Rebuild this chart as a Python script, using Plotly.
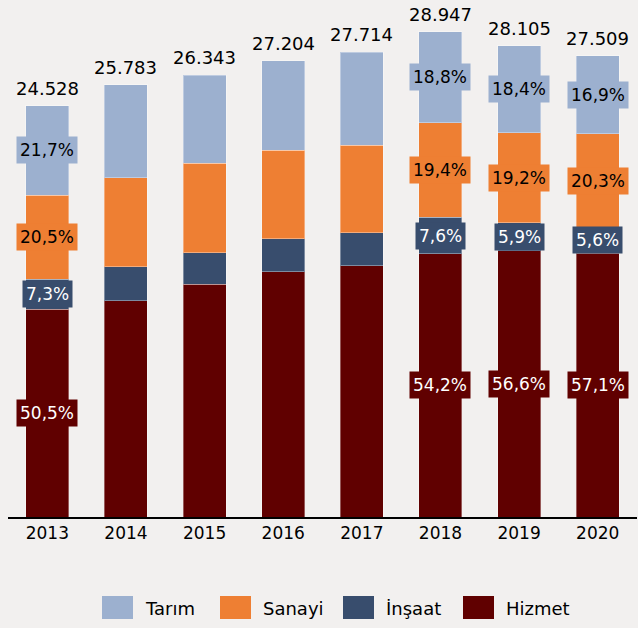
import plotly.graph_objects as go

years = ["2013", "2014", "2015", "2016", "2017", "2018", "2019", "2020"]
tarim = [5323, 5532, 5248, 5319, 5524, 5442, 5171, 4649]
sanayi = [5028, 5330, 5330, 5290, 5220, 5616, 5396, 5584]
insaat = [1790, 2011, 1885, 1965, 1985, 2200, 1658, 1541]
hizmet = [12387, 12910, 13880, 14630, 14985, 15689, 15880, 15735]

tarim_pct = ["21,7%", None, None, None, None, "18,8%", "18,4%", "16,9%"]
sanayi_pct = ["20,5%", None, None, None, None, "19,4%", "19,2%", "20,3%"]
insaat_pct = ["7,3%", None, None, None, None, "7,6%", "5,9%", "5,6%"]
hizmet_pct = ["50,5%", None, None, None, None, "54,2%", "56,6%", "57,1%"]

colors = {"Tarım": "#9CB0CF", "Sanayi": "#EE7F33", "İnşaat": "#384D6D", "Hizmet": "#600000"}
text_colors = {"Tarım": "black", "Sanayi": "black", "İnşaat": "white", "Hizmet": "white"}

BG = "#F2F0EF"
FONT = "DejaVu Sans"

xs = list(range(len(years)))

# stacking order from bottom to top
stack = [("Hizmet", hizmet, hizmet_pct), ("İnşaat", insaat, insaat_pct),
         ("Sanayi", sanayi, sanayi_pct), ("Tarım", tarim, tarim_pct)]

fig = go.Figure()
for name, vals, _ in stack:
    fig.add_trace(go.Bar(
        x=xs, y=vals, name=name,
        marker=dict(color=colors[name], line=dict(color="rgba(255,255,255,0.35)", width=1)),
        showlegend=False,
    ))

annotations = []
base = [0] * len(years)
for name, vals, pcts in stack:
    for i in xs:
        mid = base[i] + vals[i] / 2
        if pcts[i]:
            annotations.append(dict(
                x=i, y=mid, xref="x", yref="y", text=pcts[i], showarrow=False,
                xanchor="center", yanchor="middle",
                font=dict(family=FONT, size=17, color=text_colors[name]),
                bgcolor=colors[name], borderpad=3,
            ))
        base[i] += vals[i]

totals = [t + s + n + h for t, s, n, h in zip(tarim, sanayi, insaat, hizmet)]
for i, tot in zip(xs, totals):
    annotations.append(dict(
        x=i, y=tot, xref="x", yref="y", text=f"{tot:,}".replace(",", "."),
        showarrow=False, xanchor="center", yanchor="bottom", yshift=5,
        font=dict(family=FONT, size=18, color="black"),
    ))

# custom legend (large swatches), positioned in paper coordinates
legend_items = [("Tarım", 102), ("Sanayi", 220), ("İnşaat", 343), ("Hizmet", 463)]
shapes = []
W, H = 638, 628
PL, PW, PT, PH = 8, 629, 10, 507
for name, px in legend_items:
    shapes.append(dict(
        type="rect", xref="paper", yref="paper",
        x0=(px - PL) / PW, x1=(px + 31 - PL) / PW,
        y0=-(596 - PT - PH) / PH, y1=-(619 - PT - PH) / PH,
        fillcolor=colors[name], line=dict(width=0),
    ))
    annotations.append(dict(
        x=(px + 41 - PL) / PW, y=-(608 - PT - PH) / PH, xref="paper", yref="paper",
        text=name, showarrow=False, xanchor="left", yanchor="middle",
        font=dict(family=FONT, size=18, color="black"),
    ))

fig.update_layout(
    width=W, height=H,
    barmode="stack", bargap=0.453,
    paper_bgcolor=BG, plot_bgcolor=BG,
    margin=dict(l=PL, r=W - PL - PW, t=PT, b=H - PT - PH),
    font=dict(family=FONT, size=17, color="black"),
    xaxis=dict(range=[-0.5, len(years) - 0.5], tickmode="array", tickvals=xs, ticktext=years,
               showline=True, linecolor="black", linewidth=2, ticks="",
               tickfont=dict(family=FONT, size=17, color="black"), showgrid=False,
               zeroline=False, fixedrange=True, automargin=False),
    yaxis=dict(range=[0, PH * 59.65], visible=False, showgrid=False, fixedrange=True),
    annotations=annotations, shapes=shapes, showlegend=False,
)

fig.write_html(
    "out.html",
    config={"displayModeBar": False},
    post_script="document.body.style.margin='0';document.body.style.padding='0';"
                "document.body.style.overflow='hidden';document.body.style.background='" + BG + "';",
)
